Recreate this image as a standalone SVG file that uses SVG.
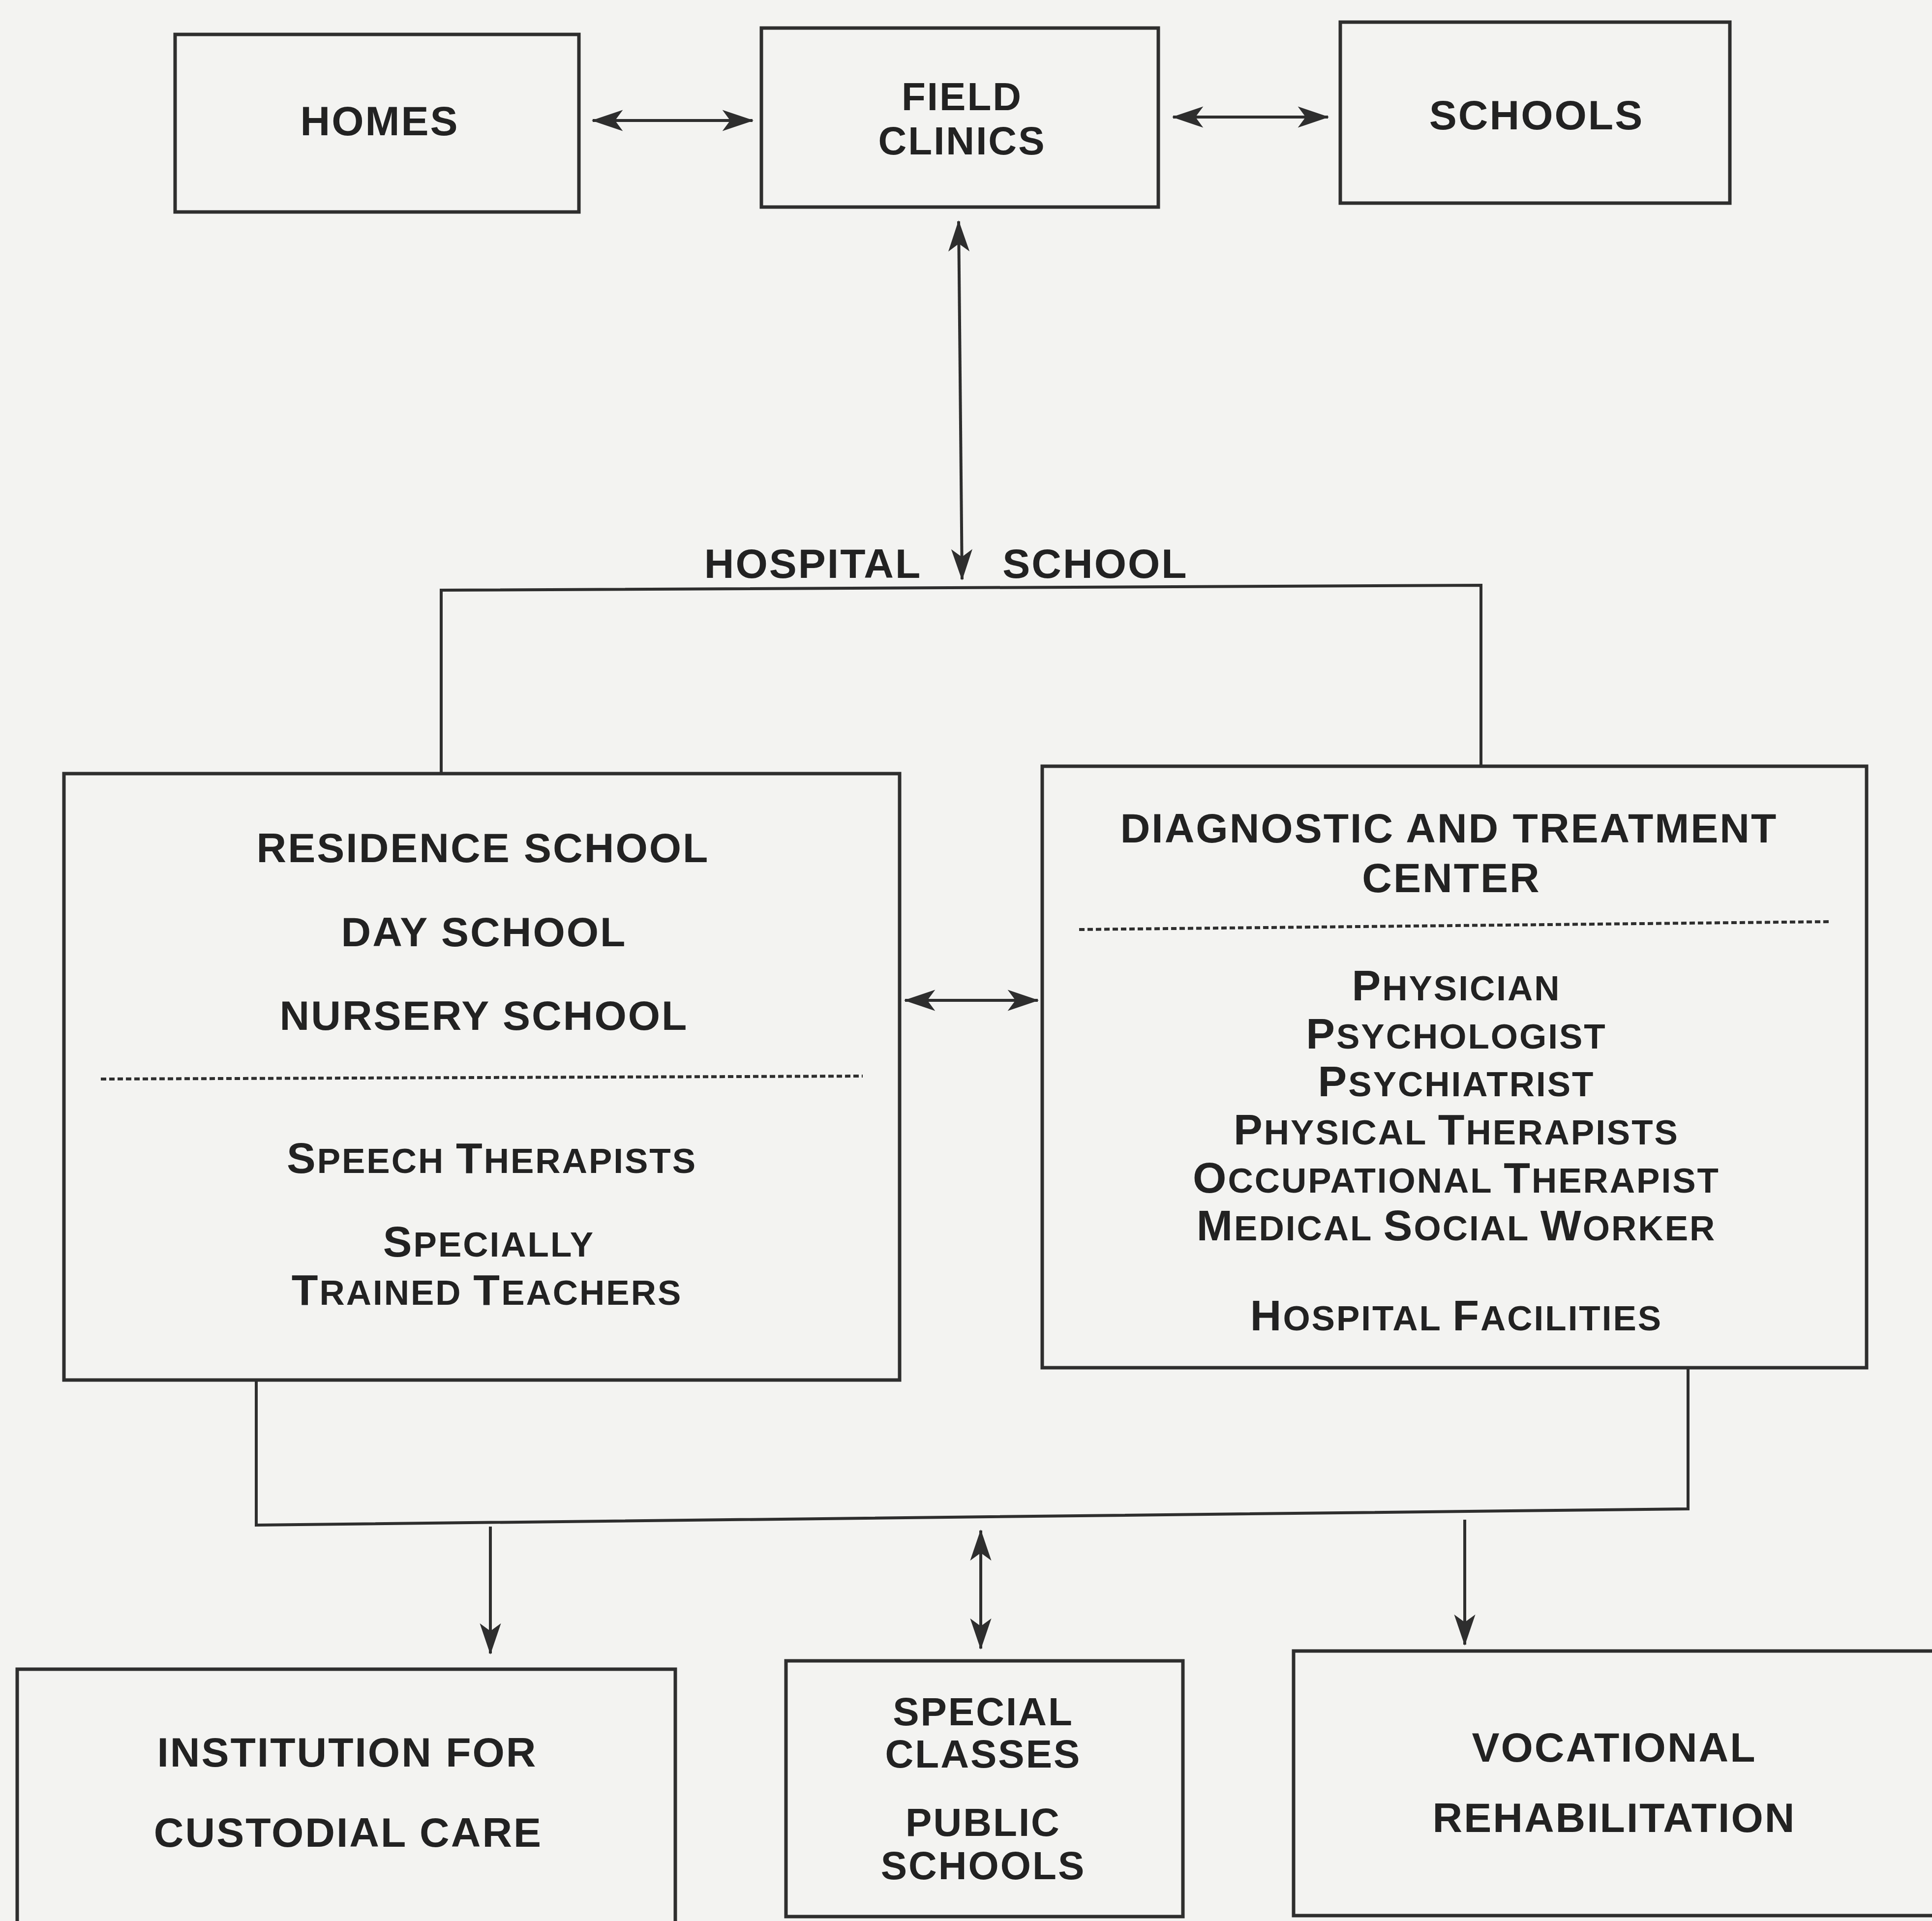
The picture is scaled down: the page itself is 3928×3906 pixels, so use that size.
<svg xmlns="http://www.w3.org/2000/svg" width="3928" height="3906" viewBox="0 0 3928 3906">
<style>
.bg{fill:#f3f3f1}
.box{fill:none;stroke:#2e2e2e;stroke-width:7}
.ln{fill:none;stroke:#2e2e2e;stroke-width:6}
.dash{fill:none;stroke:#2e2e2e;stroke-width:6;stroke-dasharray:11 6}
.t{font-family:"Liberation Sans",Arial,sans-serif;font-weight:bold;font-size:84px;fill:#222;text-anchor:middle;letter-spacing:3px}
.tn{font-size:80px}
.sc{font-size:71px}
.cap{font-size:88px}
</style>
<defs>
<marker id="ah" markerUnits="userSpaceOnUse" markerWidth="70" markerHeight="50" refX="54" refY="22" orient="auto-start-reverse" viewBox="0 0 60 44">
<path d="M0,3 L56,22 L0,41 L14,22 Z" fill="#2e2e2e"/>
</marker>
</defs>
<rect class="bg" x="0" y="0" width="3928" height="3906"/>

<g id="connectors">
<line class="ln" x1="1205" y1="245" x2="1530" y2="245" marker-start="url(#ah)" marker-end="url(#ah)"/>
<line class="ln" x1="2385" y1="238" x2="2700" y2="238" marker-start="url(#ah)" marker-end="url(#ah)"/>
<line class="ln" x1="1949" y1="450" x2="1956" y2="1178" marker-start="url(#ah)" marker-end="url(#ah)"/>
<polyline class="ln" points="897,1573 897,1200 3011,1190 3011,1558"/>
<line class="ln" x1="1840" y1="2034" x2="2110" y2="2034" marker-start="url(#ah)" marker-end="url(#ah)"/>
<polyline class="ln" points="521,2806 521,3101 3432,3068 3432,2781"/>
<line class="ln" x1="997" y1="3104" x2="997" y2="3362" marker-end="url(#ah)"/>
<line class="ln" x1="1994" y1="3112" x2="1994" y2="3352" marker-start="url(#ah)" marker-end="url(#ah)"/>
<line class="ln" x1="2978" y1="3090" x2="2978" y2="3344" marker-end="url(#ah)"/>
</g>

<g id="homes">
<rect class="box" x="356" y="70" width="821" height="361"/>
<text class="t" x="772" y="275">HOMES</text>
</g>
<g id="field-clinics">
<rect class="box" x="1548" y="57" width="807" height="364"/>
<text class="t tn" x="1956" y="224">FIELD</text>
<text class="t tn" x="1956" y="314">CLINICS</text>
</g>
<g id="schools">
<rect class="box" x="2725" y="45" width="792" height="368"/>
<text class="t" x="3124" y="263">SCHOOLS</text>
</g>
<g id="hospital-school">
<text class="t" x="1653" y="1175">HOSPITAL</text>
<text class="t" x="2227" y="1175">SCHOOL</text>
</g>
<g id="school-programs">
<rect class="box" x="130" y="1573" width="1699" height="1233"/>
<text class="t" x="982" y="1753">RESIDENCE SCHOOL</text>
<text class="t" x="984" y="1924">DAY SCHOOL</text>
<text class="t" x="984" y="2094">NURSERY SCHOOL</text>
<line class="dash" x1="205" y1="2194" x2="1754" y2="2188"/>
<text class="t sc" x="1000" y="2385"><tspan class="cap">S</tspan>PEECH <tspan class="cap">T</tspan>HERAPISTS</text>
<text class="t sc" x="994" y="2555"><tspan class="cap">S</tspan>PECIALLY</text>
<text class="t sc" x="990" y="2653"><tspan class="cap">T</tspan>RAINED <tspan class="cap">T</tspan>EACHERS</text>
</g>
<g id="diagnostic-center">
<rect class="box" x="2119" y="1558" width="1676" height="1223"/>
<text class="t" x="2946" y="1713">DIAGNOSTIC AND TREATMENT</text>
<text class="t" x="2951" y="1814">CENTER</text>
<line class="dash" x1="2194" y1="1890" x2="3720" y2="1874"/>
<text class="t sc" x="2961" y="2034"><tspan class="cap">P</tspan>HYSICIAN</text>
<text class="t sc" x="2961" y="2132"><tspan class="cap">P</tspan>SYCHOLOGIST</text>
<text class="t sc" x="2961" y="2229"><tspan class="cap">P</tspan>SYCHIATRIST</text>
<text class="t sc" x="2961" y="2327"><tspan class="cap">P</tspan>HYSICAL <tspan class="cap">T</tspan>HERAPISTS</text>
<text class="t sc" x="2961" y="2425"><tspan class="cap">O</tspan>CCUPATIONAL <tspan class="cap">T</tspan>HERAPIST</text>
<text class="t sc" x="2961" y="2522"><tspan class="cap">M</tspan>EDICAL <tspan class="cap">S</tspan>OCIAL <tspan class="cap">W</tspan>ORKER</text>
<text class="t sc" x="2961" y="2705"><tspan class="cap">H</tspan>OSPITAL <tspan class="cap">F</tspan>ACILITIES</text>
</g>
<g id="custodial-care">
<rect class="box" x="35" y="3394" width="1338" height="540"/>
<text class="t" x="706" y="3592">INSTITUTION FOR</text>
<text class="t" x="708" y="3755">CUSTODIAL CARE</text>
</g>
<g id="special-classes">
<rect class="box" x="1598" y="3377" width="807" height="520"/>
<text class="t tn" x="1999" y="3508">SPECIAL</text>
<text class="t tn" x="1999" y="3594">CLASSES</text>
<text class="t tn" x="1999" y="3733">PUBLIC</text>
<text class="t tn" x="1999" y="3821">SCHOOLS</text>
</g>
<g id="vocational-rehabilitation">
<rect class="box" x="2630" y="3357" width="1340" height="538"/>
<text class="t" x="3282" y="3582">VOCATIONAL</text>
<text class="t" x="3282" y="3725">REHABILITATION</text>
</g>
</svg>
